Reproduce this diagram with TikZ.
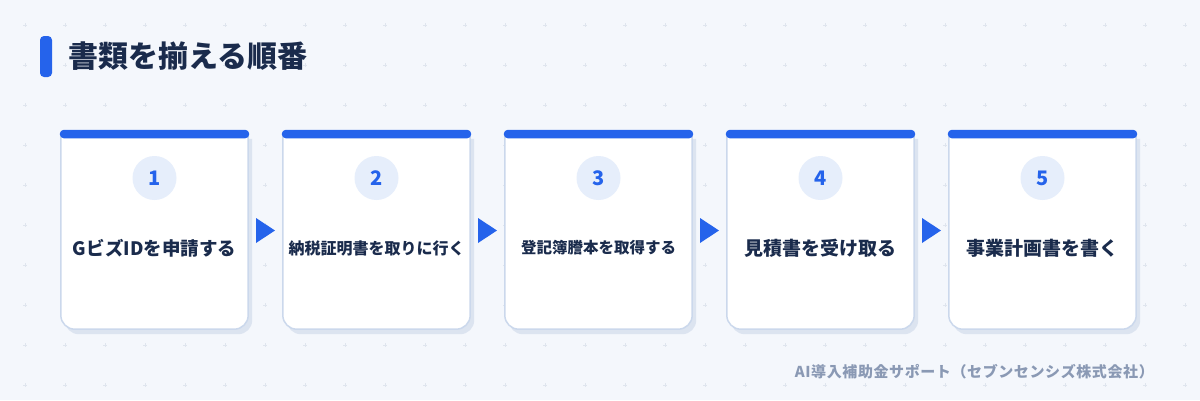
\documentclass[tikz,border=0pt]{standalone}
\usepackage{fontspec}
\newfontfamily\jp{Noto Sans CJK JP}
\usetikzlibrary{calc}
\definecolor{bgc}{HTML}{F4F7FC}
\definecolor{navy}{HTML}{1A2B4C}
\definecolor{accent}{HTML}{2563EB}
\definecolor{circc}{HTML}{E6EEFB}
\definecolor{borderc}{HTML}{CBD8EC}
\definecolor{shadowc}{HTML}{DCE4F0}
\definecolor{gridc}{HTML}{DFE5EE}
\definecolor{footc}{HTML}{8A99B4}
\tikzset{
  cardbox/.style={rectangle, draw=none, minimum width=187pt, minimum height=195pt, inner sep=0pt},
  numcirc/.style={circle, fill=circc, minimum size=44pt, inner sep=0pt, text=accent, font=\jp\bfseries\fontsize{20pt}{22pt}\selectfont},
  labtext/.style={text=navy, inner sep=0pt},
  gridmark/.style={gridc, line width=0.7pt},
}
\newcommand{\cardpath}[1]{(#1.north west) -- ([yshift=14pt]#1.south west) arc[start angle=180, end angle=270, radius=14pt] -- ([xshift=-14pt]#1.south east) arc[start angle=270, end angle=360, radius=14pt] -- (#1.north east) -- cycle}
\begin{document}
\begin{tikzpicture}[x=1pt, y=-1pt]
\fill[bgc] (0,0) rectangle (1200,400);
\useasboundingbox (0,0) rectangle (1200,400);
% grid marks
\foreach \gx in {25,65,...,1185} {
  \foreach \gy in {25,65,...,385} {
    \draw[gridmark] (\gx-2,\gy) -- (\gx+2,\gy) (\gx,\gy-2) -- (\gx,\gy+2);
  }
}
% title
\fill[accent, rounded corners=4pt] (40,36) rectangle (52,77);
\node[anchor=west, text=navy, inner sep=0pt, font=\jp\bfseries\fontsize{30pt}{34pt}\selectfont] (title) at (68,56) {書類を揃える順番};
% cards
\foreach \i/\lab/\fs in {1/GビズIDを申請する/18.5, 2/納税証明書を取りに行く/16, 3/登記簿謄本を取得する/15.5, 4/見積書を受け取る/19, 5/事業計画書を書く/19} {
  \pgfmathsetmacro{\cx}{61+222*(\i-1)+93.5}
  \node[cardbox] (c\i) at (\cx,231.5) {};
  \fill[shadowc, transform canvas={shift={(4pt,-5pt)}}] \cardpath{c\i};
  \filldraw[fill=white, draw=borderc, line width=1.5pt] \cardpath{c\i};
  \fill[accent, rounded corners=4pt] ([xshift=-1pt,yshift=4pt]c\i.north west) rectangle ([xshift=1pt,yshift=-4.5pt]c\i.north east);
  \node[numcirc] (n\i) at (\cx,178) {\i};
  \node[labtext, font=\jp\bfseries\fontsize{\fs pt}{\fs pt}\selectfont] (l\i) at (\cx,248) {\lab};
}
% arrows
\foreach \i/\j in {1/2,2/3,3/4,4/5} {
  \coordinate (m\i) at ($(c\i.east)!0.5!(c\j.west)$);
  \fill[accent] ($(m\i)+(-9.5,-13.5)$) -- ($(m\i)+(9.5,-1)$) -- ($(m\i)+(-9.5,11.5)$) -- cycle;
}
% footer
\node[anchor=east, text=footc, inner sep=0pt, font=\jp\bfseries\fontsize{15pt}{17pt}\selectfont\addfontfeatures{LetterSpace=4}] (foot) at (1154,372) {AI導入補助金サポート（セブンセンシズ株式会社）};
\end{tikzpicture}
\end{document}
